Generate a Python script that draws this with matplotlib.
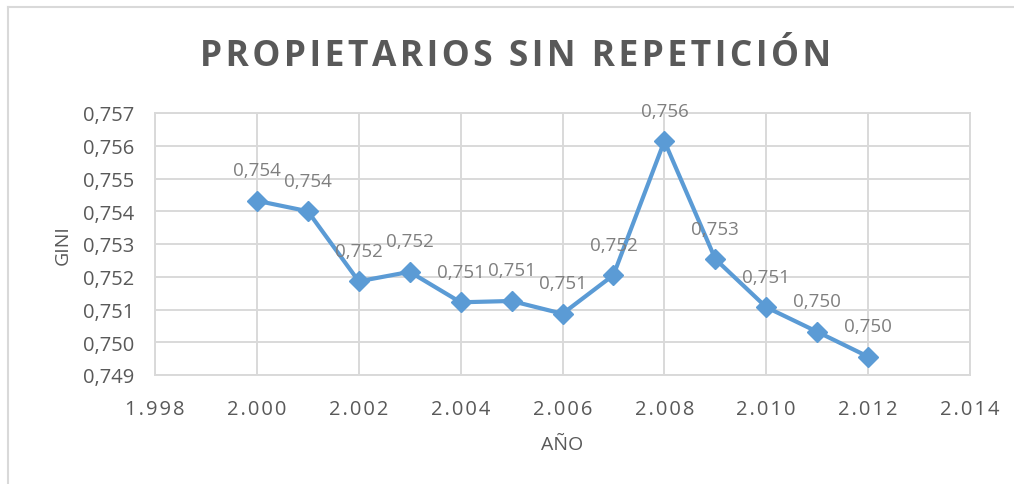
import matplotlib.pyplot as plt
from matplotlib.lines import Line2D
from matplotlib.ticker import FuncFormatter

# Data
years = [2000, 2001, 2002, 2003, 2004, 2005, 2006, 2007, 2008, 2009, 2010, 2011, 2012]
gini = [0.75432, 0.75400, 0.75186, 0.75215, 0.75122, 0.75126, 0.75087,
        0.75205, 0.75614, 0.75254, 0.75107, 0.75032, 0.74956]
x_ticks = [1998, 2000, 2002, 2004, 2006, 2008, 2010, 2012, 2014]
y_ticks = [0.749, 0.750, 0.751, 0.752, 0.753, 0.754, 0.755, 0.756, 0.757]
title = 'PROPIETARIOS SIN REPETICIÓN'

plt.rcParams['font.family'] = ['Open Sans', 'DejaVu Sans']
text_col = '#595959'
grid_col = '#d9d9d9'
line_col = '#5b9bd5'
HS = '\u200a'  # hair space, used for letter spacing


def spaced(s):
    return HS.join(s)


fig = plt.figure(figsize=(10.14, 4.85), dpi=100)
ax = fig.add_axes([155 / 1014, 1 - 376 / 485, 815 / 1014, 262 / 485])

ax.plot(years, gini, color=line_col, lw=3, marker='D', markersize=10,
        markerfacecolor=line_col, markeredgecolor=line_col, zorder=3)

for x, y in zip(years, gini):
    ax.annotate(f'{y:.3f}'.replace('.', ','), (x, y), xytext=(0, 22),
                textcoords='offset points', ha='center', va='center',
                fontsize=13.5, color='#7f7f7f')

ax.set_xlim(1998, 2014)
ax.set_ylim(0.749, 0.757)
ax.set_xticks(x_ticks)
ax.set_yticks(y_ticks)
ax.xaxis.set_major_formatter(FuncFormatter(lambda v, p: spaced(f'{v / 1000:.3f}')))
ax.yaxis.set_major_formatter(FuncFormatter(lambda v, p: f'{v:.3f}'.replace('.', ',')))
ax.grid(True, color=grid_col, lw=1.4)
ax.set_axisbelow(True)
for s in ax.spines.values():
    s.set_color(grid_col)
    s.set_linewidth(1.4)
ax.tick_params(length=0, labelsize=14.5, labelcolor=text_col)
ax.tick_params(axis='x', pad=17)
ax.tick_params(axis='y', pad=15)

ax.set_xlabel('AÑO', fontsize=14, color=text_col, labelpad=12)
ax.set_ylabel('GINI', fontsize=14, color=text_col, labelpad=8)

fig.text(0.508, 1 - 57 / 485, spaced(title), ha='center', va='center',
         fontsize=25.5, fontweight='bold', color=text_col)

# chart border (top and left only visible)
fig.add_artist(Line2D([8 / 1014, 1], [1 - 8 / 485, 1 - 8 / 485], color=grid_col, lw=1.5,
                      transform=fig.transFigure))
fig.add_artist(Line2D([8 / 1014, 8 / 1014], [0, 1 - 8 / 485], color=grid_col, lw=1.5,
                      transform=fig.transFigure))

fig.savefig('out.png', dpi=100)
